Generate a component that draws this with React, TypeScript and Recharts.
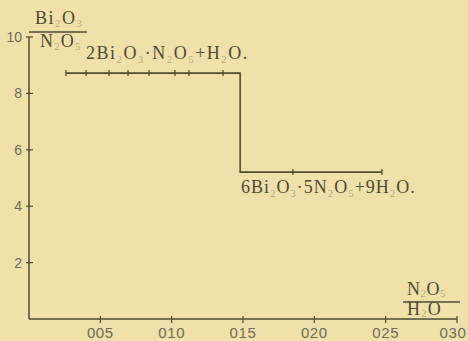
import React from 'react';
import { LineChart, Line, XAxis, YAxis } from 'recharts';

const xTicks = [0.05, 0.1, 0.15, 0.2, 0.25, 0.3];
const xTickLabels = ['005', '010', '015', '020', '025', '030'];
const yTicks = [2, 4, 6, 8, 10];
const yTickLabels = ['2', '4', '6', '8', '10'];

// N2O5 / H2O ratio (x) and Bi2O3 / N2O5 ratio (y)
const ratioN2O5H2O = [0.0259, 0.04, 0.0561, 0.0694, 0.0841, 0.1023, 0.1121, 0.136, 0.148, 0.148, 0.185, 0.2474];
const ratioBi2O3N2O5 = [8.72, 8.72, 8.72, 8.72, 8.72, 8.72, 8.72, 8.72, 8.72, 5.21, 5.21, 5.21];
const observed = [1, 1, 1, 1, 1, 1, 1, 1, 0, 0, 1, 1];

const topCompound = '2Bi_2O_3·N_2O_5+H_2O.';
const lowCompound = '6Bi_2O_3·5N_2O_5+9H_2O.';
const yNum = 'Bi_2O_3';
const yDen = 'N_2O_5';
const xNum = 'N_2O_5';
const xDen = 'H_2O';

const data = ratioN2O5H2O.map((x, i) => ({ x, y: ratioBi2O3N2O5[i], obs: observed[i] }));

const BG = '#f0e1aa';
const INK = '#4e4934';
const LINE = '#514b33';
const FADED = '#b3aa84';
const TICKTXT = '#6c6a5c';

function parse(s: string) {
  const parts: { t: string; sub: boolean }[] = [];
  for (let i = 0; i < s.length; i++) {
    if (s[i] === '_') {
      parts.push({ t: s[i + 1], sub: true });
      i++;
    } else {
      const last = parts[parts.length - 1];
      if (last && !last.sub) last.t += s[i];
      else parts.push({ t: s[i], sub: false });
    }
  }
  return parts;
}

function Formula({ x, y, s, size, spacing, drop = 4 }: { x: number; y: number; s: string; size: number; spacing: number; drop?: number }) {
  const parts = parse(s);
  let prevSub = false;
  return (
    <text x={x} y={y} fontFamily="'Liberation Serif', 'DejaVu Serif', serif" fontSize={size} fill={INK} letterSpacing={spacing}>
      {parts.map((p, i) => {
        let el;
        if (p.sub) {
          el = (
            <tspan key={i} fontSize={size * 0.6} fill={FADED} dy={prevSub ? 0 : drop}>
              {p.t}
            </tspan>
          );
        } else {
          el = (
            <tspan key={i} dy={prevSub ? -drop : 0}>
              {p.t}
            </tspan>
          );
        }
        prevSub = p.sub;
        return el;
      })}
    </text>
  );
}

// tickSize 6 + tickMargin 2 => tick props are offset 8px from the axis line
const XTick = (props: any) => {
  const { x, y, payload } = props;
  const ay = y - 8;
  const idx = xTicks.indexOf(payload.value);
  return (
    <g>
      <line x1={x} x2={x} y1={ay - 3} y2={ay + 4} stroke={LINE} strokeWidth={1.2} />
      <text x={Math.min(x, 453)} y={ay + 19} textAnchor="middle" fontFamily="'Liberation Sans', Arial, sans-serif" fontSize={15} fill={TICKTXT} letterSpacing={0.6}>
        {xTickLabels[idx]}
      </text>
    </g>
  );
};

const YTick = (props: any) => {
  const { x, y, payload } = props;
  const ax = x + 8;
  const idx = yTicks.indexOf(payload.value);
  return (
    <g>
      <line x1={ax - 3} x2={ax + 4} y1={y} y2={y} stroke={LINE} strokeWidth={1.2} />
      <text x={ax - 7} y={y + 5} textAnchor="end" fontFamily="'Liberation Sans', Arial, sans-serif" fontSize={14} fill={TICKTXT}>
        {yTickLabels[idx]}
      </text>
    </g>
  );
};

const TickDot = (props: any) => {
  const { cx, cy, payload, index } = props;
  if (!payload.obs) return <g key={`d${index}`} />;
  return <line key={`d${index}`} x1={cx} x2={cx} y1={cy - 3} y2={cy + 3} stroke={LINE} strokeWidth={1.3} />;
};

export default function App() {
  return (
    <div style={{ position: 'fixed', left: 0, top: 0, width: 468, height: 341, background: BG, overflow: 'hidden' }}>
      <LineChart width={468} height={341} data={data} margin={{ top: 37, right: 11, left: 0, bottom: 0 }}>
        <XAxis
          dataKey="x"
          type="number"
          domain={[0, 0.3]}
          ticks={xTicks}
          height={22}
          tickSize={6}
          tickMargin={2}
          tick={<XTick />}
          axisLine={{ stroke: LINE, strokeWidth: 1.5 }}
          tickLine={false}
          interval={0}
        />
        <YAxis
          type="number"
          domain={[0, 10]}
          ticks={yTicks}
          width={29}
          tickSize={6}
          tickMargin={2}
          tick={<YTick />}
          axisLine={{ stroke: LINE, strokeWidth: 1.5 }}
          tickLine={false}
          interval={0}
        />
        <Line
          dataKey="y"
          type="linear"
          stroke={LINE}
          strokeWidth={1.6}
          dot={TickDot}
          activeDot={false}
          isAnimationActive={false}
        />
      </LineChart>
      <svg width={468} height={341} style={{ position: 'absolute', left: 0, top: 0, pointerEvents: 'none' }}>
        <Formula x={35} y={24} s={yNum} size={18} spacing={1.5} drop={3} />
        <line x1={29} x2={87} y1={32} y2={32} stroke={LINE} strokeWidth={1.3} />
        <Formula x={40} y={47} s={yDen} size={18} spacing={1.2} drop={3} />
        <Formula x={86} y={59} s={topCompound} size={18} spacing={1.5} />
        <Formula x={241} y={193} s={lowCompound} size={18} spacing={1.0} />
        <Formula x={407} y={295} s={xNum} size={18} spacing={0.5} drop={2} />
        <line x1={403} x2={460} y1={302} y2={302} stroke={LINE} strokeWidth={1.3} />
        <Formula x={407} y={315} s={xDen} size={18} spacing={1.2} drop={2} />
      </svg>
    </div>
  );
}
